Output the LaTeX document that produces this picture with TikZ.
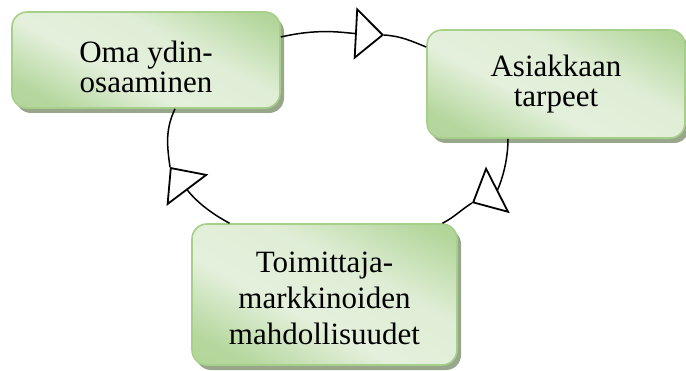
\documentclass[tikz,border=0pt]{standalone}
\usepackage{fontspec}
\setmainfont{Liberation Serif}
\usetikzlibrary{calc, arrows.meta, shadows}

\definecolor{vihrea}{RGB}{166,207,138}
\definecolor{vaalea}{RGB}{228,240,220}
\definecolor{varjo}{RGB}{152,166,140}
\pgfdeclareverticalshading{laatta}{100bp}{color(0bp)=(vihrea!90!vaalea); color(24bp)=(vihrea!75!vaalea); color(42bp)=(vaalea); color(60bp)=(vaalea!92!vihrea); color(80bp)=(vihrea!80!vaalea); color(100bp)=(vihrea)}

\begin{document}
\begin{tikzpicture}[x=1pt,y=1pt,
every node/.style={rectangle,rounded corners=15pt,draw=vihrea,line width=1.6pt,shading=laatta,shading angle=-28,drop shadow={shadow xshift=4pt,shadow yshift=-5pt,fill=varjo,opacity=1},align=center,inner sep=0pt,font=\fontsize{31}{30}\selectfont},
kaari/.style={line width=1.5pt},
nuoli/.style={kaari,-{Triangle[fill=white,length=29pt,width=52pt,line width=1.8pt]}},
]
\useasboundingbox (0,0) rectangle (686,370);
% laatikot
\node [minimum width=268pt,minimum height=96pt] (oma) at (146,310) {\rule{0pt}{35pt}Oma ydin-\\osaaminen};
\node [minimum width=258pt,minimum height=108pt] (asiakas) at (556,286) {Asiakkaan\\tarpeet};
\node [minimum width=265pt,minimum height=141pt,font=\fontsize{31}{36}\selectfont] (toimittaja) at (324.5,75.5) {\rule{0pt}{29pt}Toimittaja-\\markkinoiden\\mahdollisuudet};
% nuolten karjet
\coordinate (k1) at (384,335);
\coordinate (k2) at (472,167);
\coordinate (k3) at (170,203);
% kierto
\draw [nuoli] ([yshift=23pt]oma.east) to[out=13,in=177] (k1);
\draw [kaari] (k1) to[out=-4,in=158] ([yshift=37pt]asiakas.west);
\draw [nuoli] ([xshift=-48pt]asiakas.south) to[out=-90,in=27] (k2);
\draw [kaari] (k2) to[out=212,in=27] ([xshift=118pt]toimittaja.north);
\draw [nuoli] ([xshift=-95pt]toimittaja.north) to[out=152,in=-53] (k3);
\draw [kaari] (k3) to[out=98,in=245] ([xshift=29pt]oma.south);
\end{tikzpicture}
\end{document}
